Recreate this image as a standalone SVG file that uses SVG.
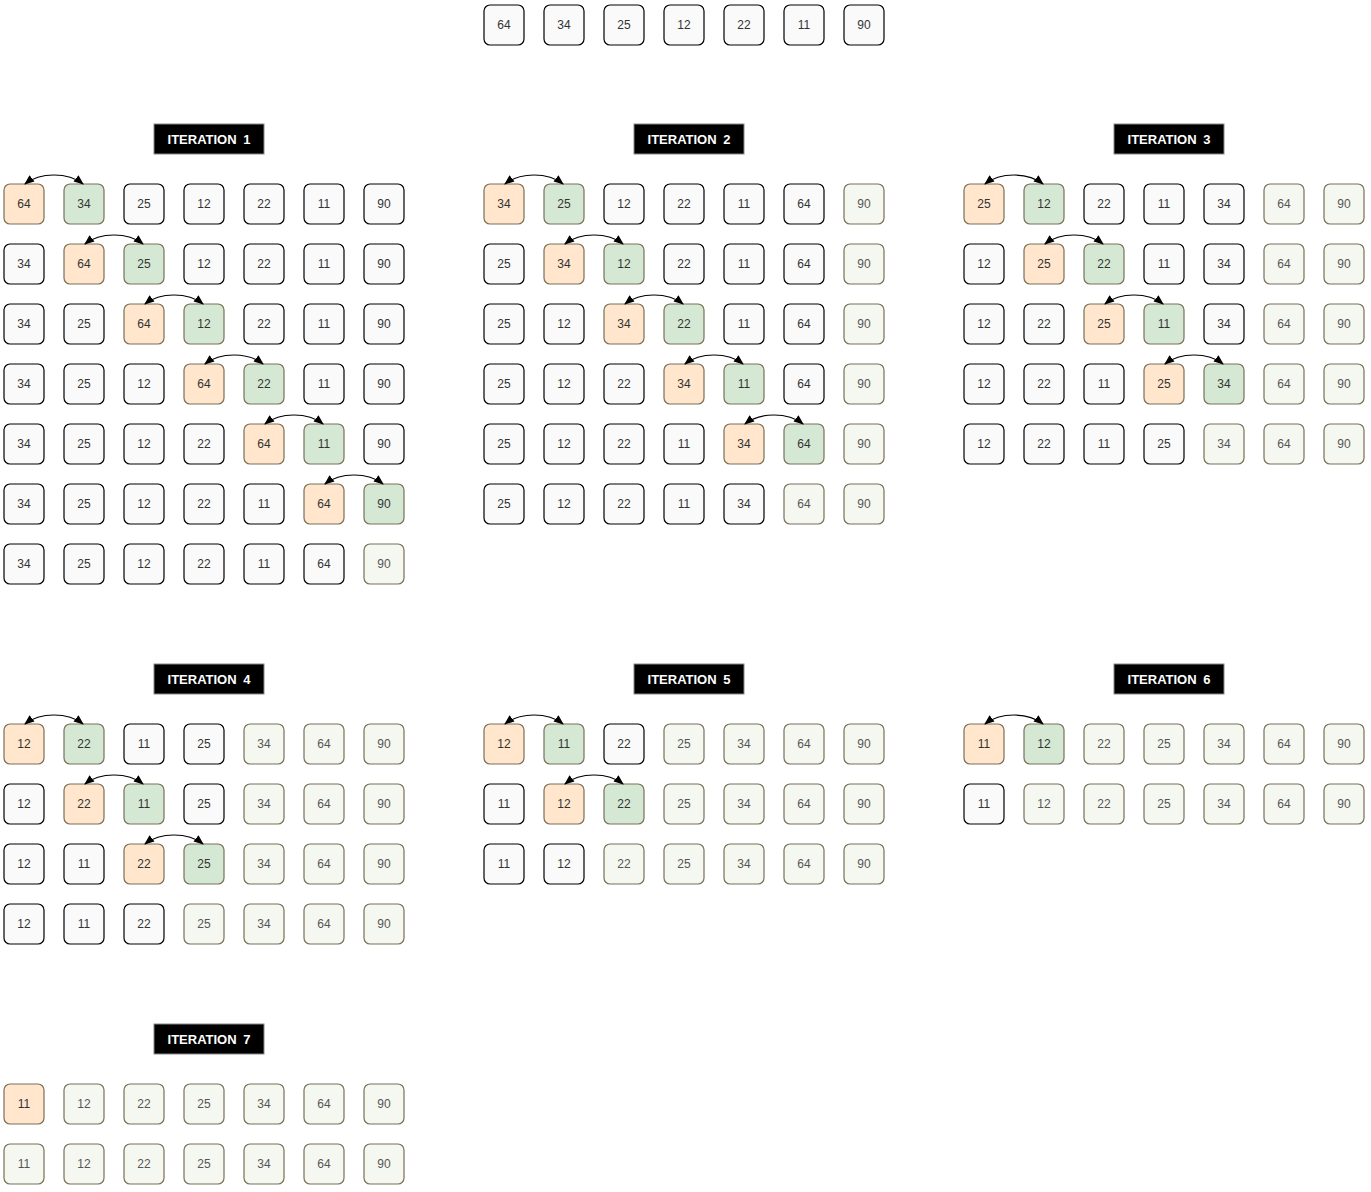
<svg xmlns="http://www.w3.org/2000/svg" width="1371" height="1192" viewBox="0 0 1371 1192">
<style>
rect.b{stroke-width:1.2}
rect.n{fill:#fafafa;stroke:#000}
rect.o{fill:#ffe6cc;stroke:#7a7058}
rect.g{fill:#d5e8d4;stroke:#7a7058}
rect.f{fill:#f5f7f1;stroke:#7a7058}
text{font-family:"Liberation Sans",Arial,sans-serif;font-size:12px;text-anchor:middle;dominant-baseline:central;fill:#333}
text.tf{fill:#555}
rect.h{fill:#000;stroke:#888;stroke-width:1}
text.h{fill:#fff;font-weight:bold;font-size:13px;word-spacing:3px}
path.a{fill:none;stroke:#000;stroke-width:1.2;marker-start:url(#ah);marker-end:url(#ah)}
</style>
<defs>
<marker id="ah" viewBox="0 0 10 8" refX="9" refY="4" markerWidth="10" markerHeight="8" markerUnits="userSpaceOnUse" orient="auto-start-reverse">
<path d="M0,0 L10,4 L0,8 Z" fill="#000"/>
</marker>
</defs>

<g id="top">
<g id="top-0"><rect class="b n" x="484" y="5" width="40" height="40" rx="6"/><text x="504" y="25">64</text></g>
<g id="top-1"><rect class="b n" x="544" y="5" width="40" height="40" rx="6"/><text x="564" y="25">34</text></g>
<g id="top-2"><rect class="b n" x="604" y="5" width="40" height="40" rx="6"/><text x="624" y="25">25</text></g>
<g id="top-3"><rect class="b n" x="664" y="5" width="40" height="40" rx="6"/><text x="684" y="25">12</text></g>
<g id="top-4"><rect class="b n" x="724" y="5" width="40" height="40" rx="6"/><text x="744" y="25">22</text></g>
<g id="top-5"><rect class="b n" x="784" y="5" width="40" height="40" rx="6"/><text x="804" y="25">11</text></g>
<g id="top-6"><rect class="b n" x="844" y="5" width="40" height="40" rx="6"/><text x="864" y="25">90</text></g>
</g>

<g id="headers">
<g id="h1"><rect class="h" x="154" y="124" width="110" height="30"/><text class="h" x="209" y="139">ITERATION 1</text></g>
<g id="h2"><rect class="h" x="634" y="124" width="110" height="30"/><text class="h" x="689" y="139">ITERATION 2</text></g>
<g id="h3"><rect class="h" x="1114" y="124" width="110" height="30"/><text class="h" x="1169" y="139">ITERATION 3</text></g>
<g id="h4"><rect class="h" x="154" y="664" width="110" height="30"/><text class="h" x="209" y="679">ITERATION 4</text></g>
<g id="h5"><rect class="h" x="634" y="664" width="110" height="30"/><text class="h" x="689" y="679">ITERATION 5</text></g>
<g id="h6"><rect class="h" x="1114" y="664" width="110" height="30"/><text class="h" x="1169" y="679">ITERATION 6</text></g>
<g id="h7"><rect class="h" x="154" y="1024" width="110" height="30"/><text class="h" x="209" y="1039">ITERATION 7</text></g>
</g>

<g id="iter1">
<g id="i1r0c0"><rect class="b o" x="4" y="184" width="40" height="40" rx="6"/><text x="24" y="204">64</text></g>
<g id="i1r0c1"><rect class="b g" x="64" y="184" width="40" height="40" rx="6"/><text x="84" y="204">34</text></g>
<g id="i1r0c2"><rect class="b n" x="124" y="184" width="40" height="40" rx="6"/><text x="144" y="204">25</text></g>
<g id="i1r0c3"><rect class="b n" x="184" y="184" width="40" height="40" rx="6"/><text x="204" y="204">12</text></g>
<g id="i1r0c4"><rect class="b n" x="244" y="184" width="40" height="40" rx="6"/><text x="264" y="204">22</text></g>
<g id="i1r0c5"><rect class="b n" x="304" y="184" width="40" height="40" rx="6"/><text x="324" y="204">11</text></g>
<g id="i1r0c6"><rect class="b n" x="364" y="184" width="40" height="40" rx="6"/><text x="384" y="204">90</text></g>

<g id="i1r1c0"><rect class="b n" x="4" y="244" width="40" height="40" rx="6"/><text x="24" y="264">34</text></g>
<g id="i1r1c1"><rect class="b o" x="64" y="244" width="40" height="40" rx="6"/><text x="84" y="264">64</text></g>
<g id="i1r1c2"><rect class="b g" x="124" y="244" width="40" height="40" rx="6"/><text x="144" y="264">25</text></g>
<g id="i1r1c3"><rect class="b n" x="184" y="244" width="40" height="40" rx="6"/><text x="204" y="264">12</text></g>
<g id="i1r1c4"><rect class="b n" x="244" y="244" width="40" height="40" rx="6"/><text x="264" y="264">22</text></g>
<g id="i1r1c5"><rect class="b n" x="304" y="244" width="40" height="40" rx="6"/><text x="324" y="264">11</text></g>
<g id="i1r1c6"><rect class="b n" x="364" y="244" width="40" height="40" rx="6"/><text x="384" y="264">90</text></g>

<g id="i1r2c0"><rect class="b n" x="4" y="304" width="40" height="40" rx="6"/><text x="24" y="324">34</text></g>
<g id="i1r2c1"><rect class="b n" x="64" y="304" width="40" height="40" rx="6"/><text x="84" y="324">25</text></g>
<g id="i1r2c2"><rect class="b o" x="124" y="304" width="40" height="40" rx="6"/><text x="144" y="324">64</text></g>
<g id="i1r2c3"><rect class="b g" x="184" y="304" width="40" height="40" rx="6"/><text x="204" y="324">12</text></g>
<g id="i1r2c4"><rect class="b n" x="244" y="304" width="40" height="40" rx="6"/><text x="264" y="324">22</text></g>
<g id="i1r2c5"><rect class="b n" x="304" y="304" width="40" height="40" rx="6"/><text x="324" y="324">11</text></g>
<g id="i1r2c6"><rect class="b n" x="364" y="304" width="40" height="40" rx="6"/><text x="384" y="324">90</text></g>

<g id="i1r3c0"><rect class="b n" x="4" y="364" width="40" height="40" rx="6"/><text x="24" y="384">34</text></g>
<g id="i1r3c1"><rect class="b n" x="64" y="364" width="40" height="40" rx="6"/><text x="84" y="384">25</text></g>
<g id="i1r3c2"><rect class="b n" x="124" y="364" width="40" height="40" rx="6"/><text x="144" y="384">12</text></g>
<g id="i1r3c3"><rect class="b o" x="184" y="364" width="40" height="40" rx="6"/><text x="204" y="384">64</text></g>
<g id="i1r3c4"><rect class="b g" x="244" y="364" width="40" height="40" rx="6"/><text x="264" y="384">22</text></g>
<g id="i1r3c5"><rect class="b n" x="304" y="364" width="40" height="40" rx="6"/><text x="324" y="384">11</text></g>
<g id="i1r3c6"><rect class="b n" x="364" y="364" width="40" height="40" rx="6"/><text x="384" y="384">90</text></g>

<g id="i1r4c0"><rect class="b n" x="4" y="424" width="40" height="40" rx="6"/><text x="24" y="444">34</text></g>
<g id="i1r4c1"><rect class="b n" x="64" y="424" width="40" height="40" rx="6"/><text x="84" y="444">25</text></g>
<g id="i1r4c2"><rect class="b n" x="124" y="424" width="40" height="40" rx="6"/><text x="144" y="444">12</text></g>
<g id="i1r4c3"><rect class="b n" x="184" y="424" width="40" height="40" rx="6"/><text x="204" y="444">22</text></g>
<g id="i1r4c4"><rect class="b o" x="244" y="424" width="40" height="40" rx="6"/><text x="264" y="444">64</text></g>
<g id="i1r4c5"><rect class="b g" x="304" y="424" width="40" height="40" rx="6"/><text x="324" y="444">11</text></g>
<g id="i1r4c6"><rect class="b n" x="364" y="424" width="40" height="40" rx="6"/><text x="384" y="444">90</text></g>

<g id="i1r5c0"><rect class="b n" x="4" y="484" width="40" height="40" rx="6"/><text x="24" y="504">34</text></g>
<g id="i1r5c1"><rect class="b n" x="64" y="484" width="40" height="40" rx="6"/><text x="84" y="504">25</text></g>
<g id="i1r5c2"><rect class="b n" x="124" y="484" width="40" height="40" rx="6"/><text x="144" y="504">12</text></g>
<g id="i1r5c3"><rect class="b n" x="184" y="484" width="40" height="40" rx="6"/><text x="204" y="504">22</text></g>
<g id="i1r5c4"><rect class="b n" x="244" y="484" width="40" height="40" rx="6"/><text x="264" y="504">11</text></g>
<g id="i1r5c5"><rect class="b o" x="304" y="484" width="40" height="40" rx="6"/><text x="324" y="504">64</text></g>
<g id="i1r5c6"><rect class="b g" x="364" y="484" width="40" height="40" rx="6"/><text x="384" y="504">90</text></g>

<g id="i1r6c0"><rect class="b n" x="4" y="544" width="40" height="40" rx="6"/><text x="24" y="564">34</text></g>
<g id="i1r6c1"><rect class="b n" x="64" y="544" width="40" height="40" rx="6"/><text x="84" y="564">25</text></g>
<g id="i1r6c2"><rect class="b n" x="124" y="544" width="40" height="40" rx="6"/><text x="144" y="564">12</text></g>
<g id="i1r6c3"><rect class="b n" x="184" y="544" width="40" height="40" rx="6"/><text x="204" y="564">22</text></g>
<g id="i1r6c4"><rect class="b n" x="244" y="544" width="40" height="40" rx="6"/><text x="264" y="564">11</text></g>
<g id="i1r6c5"><rect class="b n" x="304" y="544" width="40" height="40" rx="6"/><text x="324" y="564">64</text></g>
<g id="i1r6c6"><rect class="b f" x="364" y="544" width="40" height="40" rx="6"/><text class="tf" x="384" y="564">90</text></g>
</g>

<g id="iter2">
<g id="i2r0c0"><rect class="b o" x="484" y="184" width="40" height="40" rx="6"/><text x="504" y="204">34</text></g>
<g id="i2r0c1"><rect class="b g" x="544" y="184" width="40" height="40" rx="6"/><text x="564" y="204">25</text></g>
<g id="i2r0c2"><rect class="b n" x="604" y="184" width="40" height="40" rx="6"/><text x="624" y="204">12</text></g>
<g id="i2r0c3"><rect class="b n" x="664" y="184" width="40" height="40" rx="6"/><text x="684" y="204">22</text></g>
<g id="i2r0c4"><rect class="b n" x="724" y="184" width="40" height="40" rx="6"/><text x="744" y="204">11</text></g>
<g id="i2r0c5"><rect class="b n" x="784" y="184" width="40" height="40" rx="6"/><text x="804" y="204">64</text></g>
<g id="i2r0c6"><rect class="b f" x="844" y="184" width="40" height="40" rx="6"/><text class="tf" x="864" y="204">90</text></g>

<g id="i2r1c0"><rect class="b n" x="484" y="244" width="40" height="40" rx="6"/><text x="504" y="264">25</text></g>
<g id="i2r1c1"><rect class="b o" x="544" y="244" width="40" height="40" rx="6"/><text x="564" y="264">34</text></g>
<g id="i2r1c2"><rect class="b g" x="604" y="244" width="40" height="40" rx="6"/><text x="624" y="264">12</text></g>
<g id="i2r1c3"><rect class="b n" x="664" y="244" width="40" height="40" rx="6"/><text x="684" y="264">22</text></g>
<g id="i2r1c4"><rect class="b n" x="724" y="244" width="40" height="40" rx="6"/><text x="744" y="264">11</text></g>
<g id="i2r1c5"><rect class="b n" x="784" y="244" width="40" height="40" rx="6"/><text x="804" y="264">64</text></g>
<g id="i2r1c6"><rect class="b f" x="844" y="244" width="40" height="40" rx="6"/><text class="tf" x="864" y="264">90</text></g>

<g id="i2r2c0"><rect class="b n" x="484" y="304" width="40" height="40" rx="6"/><text x="504" y="324">25</text></g>
<g id="i2r2c1"><rect class="b n" x="544" y="304" width="40" height="40" rx="6"/><text x="564" y="324">12</text></g>
<g id="i2r2c2"><rect class="b o" x="604" y="304" width="40" height="40" rx="6"/><text x="624" y="324">34</text></g>
<g id="i2r2c3"><rect class="b g" x="664" y="304" width="40" height="40" rx="6"/><text x="684" y="324">22</text></g>
<g id="i2r2c4"><rect class="b n" x="724" y="304" width="40" height="40" rx="6"/><text x="744" y="324">11</text></g>
<g id="i2r2c5"><rect class="b n" x="784" y="304" width="40" height="40" rx="6"/><text x="804" y="324">64</text></g>
<g id="i2r2c6"><rect class="b f" x="844" y="304" width="40" height="40" rx="6"/><text class="tf" x="864" y="324">90</text></g>

<g id="i2r3c0"><rect class="b n" x="484" y="364" width="40" height="40" rx="6"/><text x="504" y="384">25</text></g>
<g id="i2r3c1"><rect class="b n" x="544" y="364" width="40" height="40" rx="6"/><text x="564" y="384">12</text></g>
<g id="i2r3c2"><rect class="b n" x="604" y="364" width="40" height="40" rx="6"/><text x="624" y="384">22</text></g>
<g id="i2r3c3"><rect class="b o" x="664" y="364" width="40" height="40" rx="6"/><text x="684" y="384">34</text></g>
<g id="i2r3c4"><rect class="b g" x="724" y="364" width="40" height="40" rx="6"/><text x="744" y="384">11</text></g>
<g id="i2r3c5"><rect class="b n" x="784" y="364" width="40" height="40" rx="6"/><text x="804" y="384">64</text></g>
<g id="i2r3c6"><rect class="b f" x="844" y="364" width="40" height="40" rx="6"/><text class="tf" x="864" y="384">90</text></g>

<g id="i2r4c0"><rect class="b n" x="484" y="424" width="40" height="40" rx="6"/><text x="504" y="444">25</text></g>
<g id="i2r4c1"><rect class="b n" x="544" y="424" width="40" height="40" rx="6"/><text x="564" y="444">12</text></g>
<g id="i2r4c2"><rect class="b n" x="604" y="424" width="40" height="40" rx="6"/><text x="624" y="444">22</text></g>
<g id="i2r4c3"><rect class="b n" x="664" y="424" width="40" height="40" rx="6"/><text x="684" y="444">11</text></g>
<g id="i2r4c4"><rect class="b o" x="724" y="424" width="40" height="40" rx="6"/><text x="744" y="444">34</text></g>
<g id="i2r4c5"><rect class="b g" x="784" y="424" width="40" height="40" rx="6"/><text x="804" y="444">64</text></g>
<g id="i2r4c6"><rect class="b f" x="844" y="424" width="40" height="40" rx="6"/><text class="tf" x="864" y="444">90</text></g>

<g id="i2r5c0"><rect class="b n" x="484" y="484" width="40" height="40" rx="6"/><text x="504" y="504">25</text></g>
<g id="i2r5c1"><rect class="b n" x="544" y="484" width="40" height="40" rx="6"/><text x="564" y="504">12</text></g>
<g id="i2r5c2"><rect class="b n" x="604" y="484" width="40" height="40" rx="6"/><text x="624" y="504">22</text></g>
<g id="i2r5c3"><rect class="b n" x="664" y="484" width="40" height="40" rx="6"/><text x="684" y="504">11</text></g>
<g id="i2r5c4"><rect class="b n" x="724" y="484" width="40" height="40" rx="6"/><text x="744" y="504">34</text></g>
<g id="i2r5c5"><rect class="b f" x="784" y="484" width="40" height="40" rx="6"/><text class="tf" x="804" y="504">64</text></g>
<g id="i2r5c6"><rect class="b f" x="844" y="484" width="40" height="40" rx="6"/><text class="tf" x="864" y="504">90</text></g>
</g>

<g id="iter3">
<g id="i3r0c0"><rect class="b o" x="964" y="184" width="40" height="40" rx="6"/><text x="984" y="204">25</text></g>
<g id="i3r0c1"><rect class="b g" x="1024" y="184" width="40" height="40" rx="6"/><text x="1044" y="204">12</text></g>
<g id="i3r0c2"><rect class="b n" x="1084" y="184" width="40" height="40" rx="6"/><text x="1104" y="204">22</text></g>
<g id="i3r0c3"><rect class="b n" x="1144" y="184" width="40" height="40" rx="6"/><text x="1164" y="204">11</text></g>
<g id="i3r0c4"><rect class="b n" x="1204" y="184" width="40" height="40" rx="6"/><text x="1224" y="204">34</text></g>
<g id="i3r0c5"><rect class="b f" x="1264" y="184" width="40" height="40" rx="6"/><text class="tf" x="1284" y="204">64</text></g>
<g id="i3r0c6"><rect class="b f" x="1324" y="184" width="40" height="40" rx="6"/><text class="tf" x="1344" y="204">90</text></g>

<g id="i3r1c0"><rect class="b n" x="964" y="244" width="40" height="40" rx="6"/><text x="984" y="264">12</text></g>
<g id="i3r1c1"><rect class="b o" x="1024" y="244" width="40" height="40" rx="6"/><text x="1044" y="264">25</text></g>
<g id="i3r1c2"><rect class="b g" x="1084" y="244" width="40" height="40" rx="6"/><text x="1104" y="264">22</text></g>
<g id="i3r1c3"><rect class="b n" x="1144" y="244" width="40" height="40" rx="6"/><text x="1164" y="264">11</text></g>
<g id="i3r1c4"><rect class="b n" x="1204" y="244" width="40" height="40" rx="6"/><text x="1224" y="264">34</text></g>
<g id="i3r1c5"><rect class="b f" x="1264" y="244" width="40" height="40" rx="6"/><text class="tf" x="1284" y="264">64</text></g>
<g id="i3r1c6"><rect class="b f" x="1324" y="244" width="40" height="40" rx="6"/><text class="tf" x="1344" y="264">90</text></g>

<g id="i3r2c0"><rect class="b n" x="964" y="304" width="40" height="40" rx="6"/><text x="984" y="324">12</text></g>
<g id="i3r2c1"><rect class="b n" x="1024" y="304" width="40" height="40" rx="6"/><text x="1044" y="324">22</text></g>
<g id="i3r2c2"><rect class="b o" x="1084" y="304" width="40" height="40" rx="6"/><text x="1104" y="324">25</text></g>
<g id="i3r2c3"><rect class="b g" x="1144" y="304" width="40" height="40" rx="6"/><text x="1164" y="324">11</text></g>
<g id="i3r2c4"><rect class="b n" x="1204" y="304" width="40" height="40" rx="6"/><text x="1224" y="324">34</text></g>
<g id="i3r2c5"><rect class="b f" x="1264" y="304" width="40" height="40" rx="6"/><text class="tf" x="1284" y="324">64</text></g>
<g id="i3r2c6"><rect class="b f" x="1324" y="304" width="40" height="40" rx="6"/><text class="tf" x="1344" y="324">90</text></g>

<g id="i3r3c0"><rect class="b n" x="964" y="364" width="40" height="40" rx="6"/><text x="984" y="384">12</text></g>
<g id="i3r3c1"><rect class="b n" x="1024" y="364" width="40" height="40" rx="6"/><text x="1044" y="384">22</text></g>
<g id="i3r3c2"><rect class="b n" x="1084" y="364" width="40" height="40" rx="6"/><text x="1104" y="384">11</text></g>
<g id="i3r3c3"><rect class="b o" x="1144" y="364" width="40" height="40" rx="6"/><text x="1164" y="384">25</text></g>
<g id="i3r3c4"><rect class="b g" x="1204" y="364" width="40" height="40" rx="6"/><text x="1224" y="384">34</text></g>
<g id="i3r3c5"><rect class="b f" x="1264" y="364" width="40" height="40" rx="6"/><text class="tf" x="1284" y="384">64</text></g>
<g id="i3r3c6"><rect class="b f" x="1324" y="364" width="40" height="40" rx="6"/><text class="tf" x="1344" y="384">90</text></g>

<g id="i3r4c0"><rect class="b n" x="964" y="424" width="40" height="40" rx="6"/><text x="984" y="444">12</text></g>
<g id="i3r4c1"><rect class="b n" x="1024" y="424" width="40" height="40" rx="6"/><text x="1044" y="444">22</text></g>
<g id="i3r4c2"><rect class="b n" x="1084" y="424" width="40" height="40" rx="6"/><text x="1104" y="444">11</text></g>
<g id="i3r4c3"><rect class="b n" x="1144" y="424" width="40" height="40" rx="6"/><text x="1164" y="444">25</text></g>
<g id="i3r4c4"><rect class="b f" x="1204" y="424" width="40" height="40" rx="6"/><text class="tf" x="1224" y="444">34</text></g>
<g id="i3r4c5"><rect class="b f" x="1264" y="424" width="40" height="40" rx="6"/><text class="tf" x="1284" y="444">64</text></g>
<g id="i3r4c6"><rect class="b f" x="1324" y="424" width="40" height="40" rx="6"/><text class="tf" x="1344" y="444">90</text></g>
</g>

<g id="iter4">
<g id="i4r0c0"><rect class="b o" x="4" y="724" width="40" height="40" rx="6"/><text x="24" y="744">12</text></g>
<g id="i4r0c1"><rect class="b g" x="64" y="724" width="40" height="40" rx="6"/><text x="84" y="744">22</text></g>
<g id="i4r0c2"><rect class="b n" x="124" y="724" width="40" height="40" rx="6"/><text x="144" y="744">11</text></g>
<g id="i4r0c3"><rect class="b n" x="184" y="724" width="40" height="40" rx="6"/><text x="204" y="744">25</text></g>
<g id="i4r0c4"><rect class="b f" x="244" y="724" width="40" height="40" rx="6"/><text class="tf" x="264" y="744">34</text></g>
<g id="i4r0c5"><rect class="b f" x="304" y="724" width="40" height="40" rx="6"/><text class="tf" x="324" y="744">64</text></g>
<g id="i4r0c6"><rect class="b f" x="364" y="724" width="40" height="40" rx="6"/><text class="tf" x="384" y="744">90</text></g>

<g id="i4r1c0"><rect class="b n" x="4" y="784" width="40" height="40" rx="6"/><text x="24" y="804">12</text></g>
<g id="i4r1c1"><rect class="b o" x="64" y="784" width="40" height="40" rx="6"/><text x="84" y="804">22</text></g>
<g id="i4r1c2"><rect class="b g" x="124" y="784" width="40" height="40" rx="6"/><text x="144" y="804">11</text></g>
<g id="i4r1c3"><rect class="b n" x="184" y="784" width="40" height="40" rx="6"/><text x="204" y="804">25</text></g>
<g id="i4r1c4"><rect class="b f" x="244" y="784" width="40" height="40" rx="6"/><text class="tf" x="264" y="804">34</text></g>
<g id="i4r1c5"><rect class="b f" x="304" y="784" width="40" height="40" rx="6"/><text class="tf" x="324" y="804">64</text></g>
<g id="i4r1c6"><rect class="b f" x="364" y="784" width="40" height="40" rx="6"/><text class="tf" x="384" y="804">90</text></g>

<g id="i4r2c0"><rect class="b n" x="4" y="844" width="40" height="40" rx="6"/><text x="24" y="864">12</text></g>
<g id="i4r2c1"><rect class="b n" x="64" y="844" width="40" height="40" rx="6"/><text x="84" y="864">11</text></g>
<g id="i4r2c2"><rect class="b o" x="124" y="844" width="40" height="40" rx="6"/><text x="144" y="864">22</text></g>
<g id="i4r2c3"><rect class="b g" x="184" y="844" width="40" height="40" rx="6"/><text x="204" y="864">25</text></g>
<g id="i4r2c4"><rect class="b f" x="244" y="844" width="40" height="40" rx="6"/><text class="tf" x="264" y="864">34</text></g>
<g id="i4r2c5"><rect class="b f" x="304" y="844" width="40" height="40" rx="6"/><text class="tf" x="324" y="864">64</text></g>
<g id="i4r2c6"><rect class="b f" x="364" y="844" width="40" height="40" rx="6"/><text class="tf" x="384" y="864">90</text></g>

<g id="i4r3c0"><rect class="b n" x="4" y="904" width="40" height="40" rx="6"/><text x="24" y="924">12</text></g>
<g id="i4r3c1"><rect class="b n" x="64" y="904" width="40" height="40" rx="6"/><text x="84" y="924">11</text></g>
<g id="i4r3c2"><rect class="b n" x="124" y="904" width="40" height="40" rx="6"/><text x="144" y="924">22</text></g>
<g id="i4r3c3"><rect class="b f" x="184" y="904" width="40" height="40" rx="6"/><text class="tf" x="204" y="924">25</text></g>
<g id="i4r3c4"><rect class="b f" x="244" y="904" width="40" height="40" rx="6"/><text class="tf" x="264" y="924">34</text></g>
<g id="i4r3c5"><rect class="b f" x="304" y="904" width="40" height="40" rx="6"/><text class="tf" x="324" y="924">64</text></g>
<g id="i4r3c6"><rect class="b f" x="364" y="904" width="40" height="40" rx="6"/><text class="tf" x="384" y="924">90</text></g>
</g>

<g id="iter5">
<g id="i5r0c0"><rect class="b o" x="484" y="724" width="40" height="40" rx="6"/><text x="504" y="744">12</text></g>
<g id="i5r0c1"><rect class="b g" x="544" y="724" width="40" height="40" rx="6"/><text x="564" y="744">11</text></g>
<g id="i5r0c2"><rect class="b n" x="604" y="724" width="40" height="40" rx="6"/><text x="624" y="744">22</text></g>
<g id="i5r0c3"><rect class="b f" x="664" y="724" width="40" height="40" rx="6"/><text class="tf" x="684" y="744">25</text></g>
<g id="i5r0c4"><rect class="b f" x="724" y="724" width="40" height="40" rx="6"/><text class="tf" x="744" y="744">34</text></g>
<g id="i5r0c5"><rect class="b f" x="784" y="724" width="40" height="40" rx="6"/><text class="tf" x="804" y="744">64</text></g>
<g id="i5r0c6"><rect class="b f" x="844" y="724" width="40" height="40" rx="6"/><text class="tf" x="864" y="744">90</text></g>

<g id="i5r1c0"><rect class="b n" x="484" y="784" width="40" height="40" rx="6"/><text x="504" y="804">11</text></g>
<g id="i5r1c1"><rect class="b o" x="544" y="784" width="40" height="40" rx="6"/><text x="564" y="804">12</text></g>
<g id="i5r1c2"><rect class="b g" x="604" y="784" width="40" height="40" rx="6"/><text x="624" y="804">22</text></g>
<g id="i5r1c3"><rect class="b f" x="664" y="784" width="40" height="40" rx="6"/><text class="tf" x="684" y="804">25</text></g>
<g id="i5r1c4"><rect class="b f" x="724" y="784" width="40" height="40" rx="6"/><text class="tf" x="744" y="804">34</text></g>
<g id="i5r1c5"><rect class="b f" x="784" y="784" width="40" height="40" rx="6"/><text class="tf" x="804" y="804">64</text></g>
<g id="i5r1c6"><rect class="b f" x="844" y="784" width="40" height="40" rx="6"/><text class="tf" x="864" y="804">90</text></g>

<g id="i5r2c0"><rect class="b n" x="484" y="844" width="40" height="40" rx="6"/><text x="504" y="864">11</text></g>
<g id="i5r2c1"><rect class="b n" x="544" y="844" width="40" height="40" rx="6"/><text x="564" y="864">12</text></g>
<g id="i5r2c2"><rect class="b f" x="604" y="844" width="40" height="40" rx="6"/><text class="tf" x="624" y="864">22</text></g>
<g id="i5r2c3"><rect class="b f" x="664" y="844" width="40" height="40" rx="6"/><text class="tf" x="684" y="864">25</text></g>
<g id="i5r2c4"><rect class="b f" x="724" y="844" width="40" height="40" rx="6"/><text class="tf" x="744" y="864">34</text></g>
<g id="i5r2c5"><rect class="b f" x="784" y="844" width="40" height="40" rx="6"/><text class="tf" x="804" y="864">64</text></g>
<g id="i5r2c6"><rect class="b f" x="844" y="844" width="40" height="40" rx="6"/><text class="tf" x="864" y="864">90</text></g>
</g>

<g id="iter6">
<g id="i6r0c0"><rect class="b o" x="964" y="724" width="40" height="40" rx="6"/><text x="984" y="744">11</text></g>
<g id="i6r0c1"><rect class="b g" x="1024" y="724" width="40" height="40" rx="6"/><text x="1044" y="744">12</text></g>
<g id="i6r0c2"><rect class="b f" x="1084" y="724" width="40" height="40" rx="6"/><text class="tf" x="1104" y="744">22</text></g>
<g id="i6r0c3"><rect class="b f" x="1144" y="724" width="40" height="40" rx="6"/><text class="tf" x="1164" y="744">25</text></g>
<g id="i6r0c4"><rect class="b f" x="1204" y="724" width="40" height="40" rx="6"/><text class="tf" x="1224" y="744">34</text></g>
<g id="i6r0c5"><rect class="b f" x="1264" y="724" width="40" height="40" rx="6"/><text class="tf" x="1284" y="744">64</text></g>
<g id="i6r0c6"><rect class="b f" x="1324" y="724" width="40" height="40" rx="6"/><text class="tf" x="1344" y="744">90</text></g>

<g id="i6r1c0"><rect class="b n" x="964" y="784" width="40" height="40" rx="6"/><text x="984" y="804">11</text></g>
<g id="i6r1c1"><rect class="b f" x="1024" y="784" width="40" height="40" rx="6"/><text class="tf" x="1044" y="804">12</text></g>
<g id="i6r1c2"><rect class="b f" x="1084" y="784" width="40" height="40" rx="6"/><text class="tf" x="1104" y="804">22</text></g>
<g id="i6r1c3"><rect class="b f" x="1144" y="784" width="40" height="40" rx="6"/><text class="tf" x="1164" y="804">25</text></g>
<g id="i6r1c4"><rect class="b f" x="1204" y="784" width="40" height="40" rx="6"/><text class="tf" x="1224" y="804">34</text></g>
<g id="i6r1c5"><rect class="b f" x="1264" y="784" width="40" height="40" rx="6"/><text class="tf" x="1284" y="804">64</text></g>
<g id="i6r1c6"><rect class="b f" x="1324" y="784" width="40" height="40" rx="6"/><text class="tf" x="1344" y="804">90</text></g>
</g>

<g id="iter7">
<g id="i7r0c0"><rect class="b o" x="4" y="1084" width="40" height="40" rx="6"/><text x="24" y="1104">11</text></g>
<g id="i7r0c1"><rect class="b f" x="64" y="1084" width="40" height="40" rx="6"/><text class="tf" x="84" y="1104">12</text></g>
<g id="i7r0c2"><rect class="b f" x="124" y="1084" width="40" height="40" rx="6"/><text class="tf" x="144" y="1104">22</text></g>
<g id="i7r0c3"><rect class="b f" x="184" y="1084" width="40" height="40" rx="6"/><text class="tf" x="204" y="1104">25</text></g>
<g id="i7r0c4"><rect class="b f" x="244" y="1084" width="40" height="40" rx="6"/><text class="tf" x="264" y="1104">34</text></g>
<g id="i7r0c5"><rect class="b f" x="304" y="1084" width="40" height="40" rx="6"/><text class="tf" x="324" y="1104">64</text></g>
<g id="i7r0c6"><rect class="b f" x="364" y="1084" width="40" height="40" rx="6"/><text class="tf" x="384" y="1104">90</text></g>

<g id="i7r1c0"><rect class="b f" x="4" y="1144" width="40" height="40" rx="6"/><text class="tf" x="24" y="1164">11</text></g>
<g id="i7r1c1"><rect class="b f" x="64" y="1144" width="40" height="40" rx="6"/><text class="tf" x="84" y="1164">12</text></g>
<g id="i7r1c2"><rect class="b f" x="124" y="1144" width="40" height="40" rx="6"/><text class="tf" x="144" y="1164">22</text></g>
<g id="i7r1c3"><rect class="b f" x="184" y="1144" width="40" height="40" rx="6"/><text class="tf" x="204" y="1164">25</text></g>
<g id="i7r1c4"><rect class="b f" x="244" y="1144" width="40" height="40" rx="6"/><text class="tf" x="264" y="1164">34</text></g>
<g id="i7r1c5"><rect class="b f" x="304" y="1144" width="40" height="40" rx="6"/><text class="tf" x="324" y="1164">64</text></g>
<g id="i7r1c6"><rect class="b f" x="364" y="1144" width="40" height="40" rx="6"/><text class="tf" x="384" y="1164">90</text></g>
</g>

<g id="connectors">
<path class="a" d="M25,184 C40,172 68,172 83,184"/>
<path class="a" d="M85,244 C100,232 128,232 143,244"/>
<path class="a" d="M145,304 C160,292 188,292 203,304"/>
<path class="a" d="M205,364 C220,352 248,352 263,364"/>
<path class="a" d="M265,424 C280,412 308,412 323,424"/>
<path class="a" d="M325,484 C340,472 368,472 383,484"/>

<path class="a" d="M505,184 C520,172 548,172 563,184"/>
<path class="a" d="M565,244 C580,232 608,232 623,244"/>
<path class="a" d="M625,304 C640,292 668,292 683,304"/>
<path class="a" d="M685,364 C700,352 728,352 743,364"/>
<path class="a" d="M745,424 C760,412 788,412 803,424"/>

<path class="a" d="M985,184 C1000,172 1028,172 1043,184"/>
<path class="a" d="M1045,244 C1060,232 1088,232 1103,244"/>
<path class="a" d="M1105,304 C1120,292 1148,292 1163,304"/>
<path class="a" d="M1165,364 C1180,352 1208,352 1223,364"/>

<path class="a" d="M25,724 C40,712 68,712 83,724"/>
<path class="a" d="M85,784 C100,772 128,772 143,784"/>
<path class="a" d="M145,844 C160,832 188,832 203,844"/>

<path class="a" d="M505,724 C520,712 548,712 563,724"/>
<path class="a" d="M565,784 C580,772 608,772 623,784"/>

<path class="a" d="M985,724 C1000,712 1028,712 1043,724"/>
</g>
</svg>
